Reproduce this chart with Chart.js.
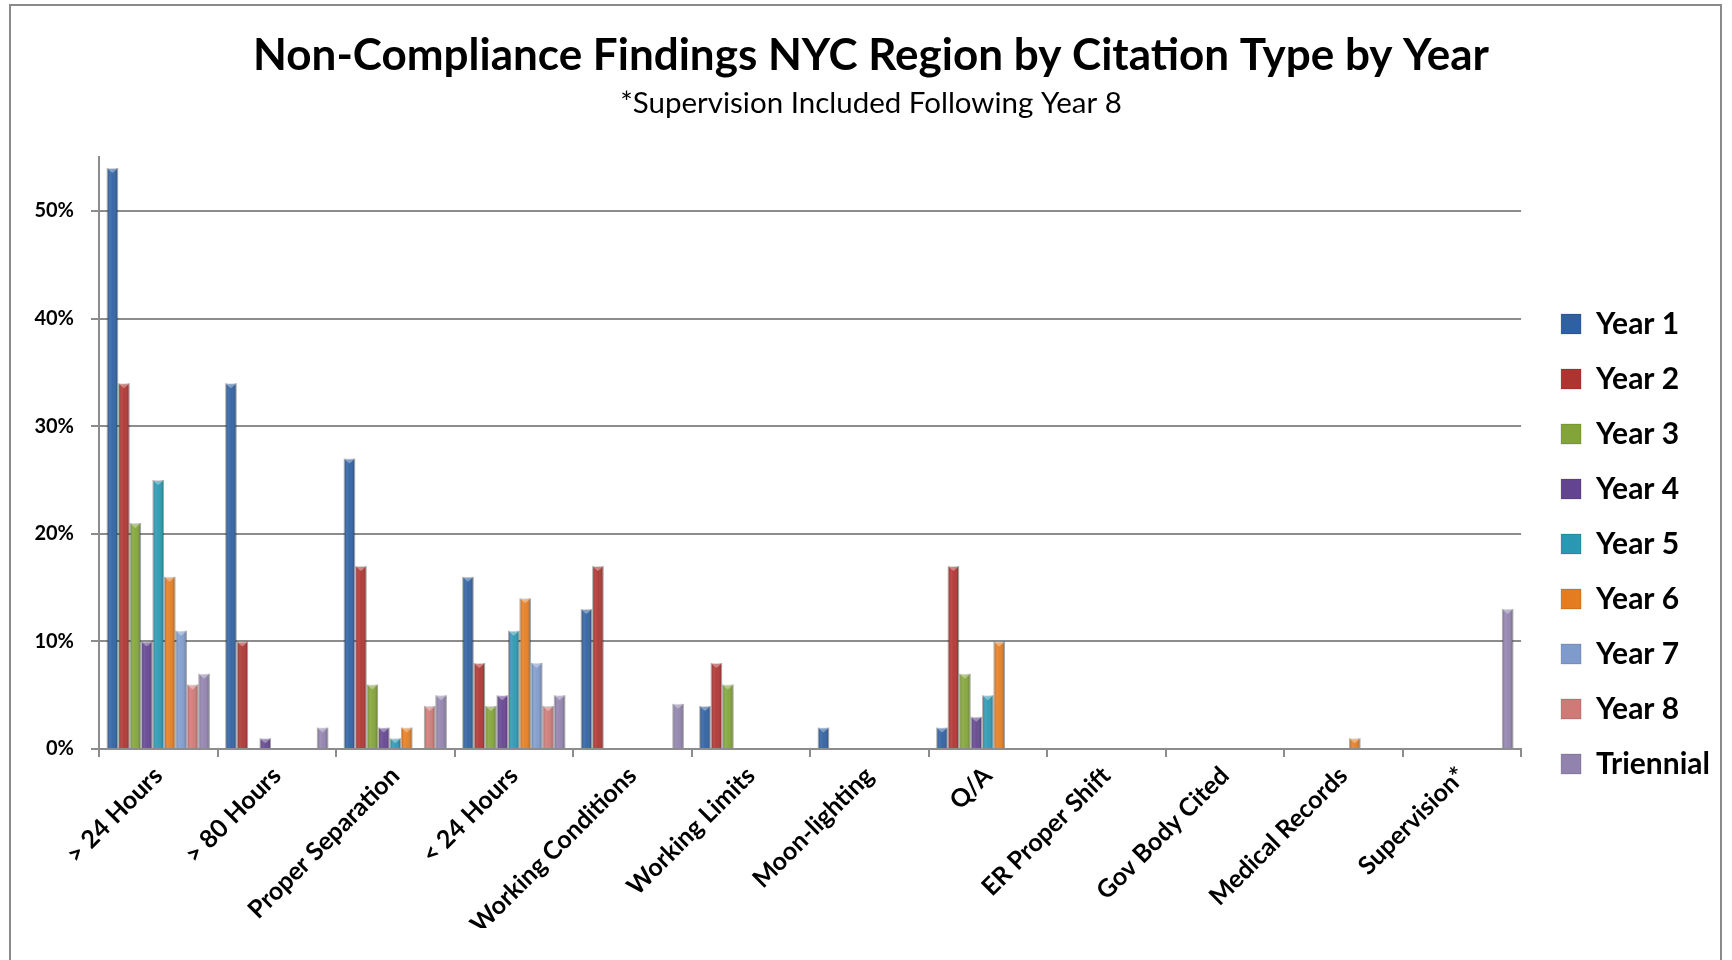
<!DOCTYPE html>
<html>
<head>
<meta charset="utf-8">
<script src="https://cdn.jsdelivr.net/npm/chart.js@4.4.1/dist/chart.umd.min.js"></script>
<style>
    html, body { margin: 0; padding: 0; background: #fff; overflow: hidden; }
    #frame { position: absolute; left: 9px; top: 4px; width: 1709px; height: 960px; border: 2px solid #8a8a8a; border-bottom: none; }
    #wrap { position: absolute; left: 0; top: 0; width: 1732px; height: 960px; }
</style>
</head>
<body>
<div id="frame"></div>
<div id="wrap"><canvas id="chart"></canvas></div>
<script>
const categories = ['> 24 Hours', '> 80 Hours', 'Proper Separation', '< 24 Hours', 'Working Conditions',
    'Working Limits', 'Moon-lighting', 'Q/A', 'ER Proper Shift', 'Gov Body Cited', 'Medical Records', 'Supervision*'];
// percent values per citation type
const year1 = [54, 34, 27, 16, 13, 4, 2, 2, 0, 0, 0, 0];
const year2 = [34, 10, 17, 8, 17, 8, 0, 17, 0, 0, 0, 0];
const year3 = [21, 0, 6, 4, 0, 6, 0, 7, 0, 0, 0, 0];
const year4 = [10, 1, 2, 5, 0, 0, 0, 3, 0, 0, 0, 0];
const year5 = [25, 0, 1, 11, 0, 0, 0, 5, 0, 0, 0, 0];
const year6 = [16, 0, 2, 14, 0, 0, 0, 10, 0, 0, 1, 0];
const year7 = [11, 0, 0, 8, 0, 0, 0, 0, 0, 0, 0, 0];
const year8 = [6, 0, 4, 4, 0, 0, 0, 0, 0, 0, 0, 0];
const triennial = [7, 2, 5, 5, 4.2, 0, 0, 0, 0, 0, 0, 13];
const seriesNames = ['Year 1', 'Year 2', 'Year 3', 'Year 4', 'Year 5', 'Year 6', 'Year 7', 'Year 8', 'Triennial'];
const seriesColors = ['#2E60A2', '#AE3431', '#82A438', '#634490', '#2A98B2', '#E47D22', '#7F9BCC', '#CE7A77', '#9182AE'];
const yTicks = [0, 10, 20, 30, 40, 50];

Chart.defaults.font.family = 'Lato, "Open Sans", sans-serif';
Chart.defaults.color = '#000';

const allSeries = [year1, year2, year3, year4, year5, year6, year7, year8, triennial];

// gives the bars a rounded, cylinder-like shading like the office chart
const barShade = {
    id: 'barShade',
    afterDatasetsDraw(chart) {
        const ctx = chart.ctx;
        chart.data.datasets.forEach((ds, i) => {
            chart.getDatasetMeta(i).data.forEach(bar => {
                const p = bar.getProps(['x', 'y', 'base', 'width'], true);
                const h = p.base - p.y;
                if (h <= 0.5) return;
                const left = p.x - p.width / 2;
                const g = ctx.createLinearGradient(left, 0, left + p.width, 0);
                g.addColorStop(0, 'rgba(0,0,0,0.25)');
                g.addColorStop(0.3, 'rgba(255,255,255,0.12)');
                g.addColorStop(0.55, 'rgba(255,255,255,0.05)');
                g.addColorStop(1, 'rgba(0,0,0,0.3)');
                ctx.save();
                ctx.fillStyle = g;
                ctx.fillRect(left, p.y, p.width, h);
                // small bevel cap on top
                ctx.fillStyle = 'rgba(255,255,255,0.35)';
                ctx.beginPath();
                ctx.moveTo(left + 1, p.y + 1);
                ctx.lineTo(left + p.width - 1, p.y + 1);
                ctx.lineTo(p.x, p.y + Math.min(5, h));
                ctx.closePath();
                ctx.fill();
                ctx.restore();
            });
        });
    }
};

// small position fixes: titles a bit right, legend lower (centred under the titles)
const nudge = {
    id: 'nudge',
    afterLayout(chart) {
        chart.boxes.forEach(b => {
            if (b.position === 'top') {
                b.left += 11;
                b.right += 11;
            }
        });
        if (chart.legend) {
            chart.legend.top += 80;
            chart.legend.bottom += 80;
        }
    }
};

new Chart(document.getElementById('chart'), {
    type: 'bar',
    data: {
        labels: categories,
        datasets: allSeries.map((values, i) => ({
            label: seriesNames[i],
            data: values.map(v => v / 100),
            backgroundColor: seriesColors[i],
            borderColor: 'rgba(0,0,0,0.15)',
            borderWidth: 1,
            barPercentage: 1,
            categoryPercentage: 0.87
        }))
    },
    options: {
        responsive: true,
        maintainAspectRatio: false,
        animation: false,
        layout: {padding: {left: 0, right: 12, top: 0, bottom: 32}},
        plugins: {
            title: {
                display: true,
                text: 'Non-Compliance Findings NYC Region by Citation Type by Year',
                font: {size: 44, weight: 'bold'},
                color: '#000',
                padding: {top: 29, bottom: 0}
            },
            subtitle: {
                display: true,
                text: '*Supervision Included Following Year 8',
                font: {size: 29.5, weight: 'normal'},
                color: '#000',
                padding: {top: 4, bottom: 36}
            },
            legend: {
                position: 'right',
                align: 'center',
                labels: {
                    boxWidth: 20,
                    boxHeight: 20,
                    padding: 25,
                    color: '#000',
                    font: {size: 30, weight: 'bold'}
                }
            },
            tooltip: {enabled: false}
        },
        scales: {
            x: {
                grid: {display: true, drawOnChartArea: false, drawTicks: true, tickLength: 8, color: '#8c8c8c', lineWidth: 2, offset: true},
                border: {color: '#8c8c8c', width: 2},
                ticks: {minRotation: 45, maxRotation: 45, autoSkip: false, padding: 4, color: '#000',
                    font: {size: 25, weight: 'bold'}},
                afterFit(scale) { scale.height = 179; }
            },
            y: {
                min: 0,
                max: 0.55,
                grid: {color: '#8c8c8c', lineWidth: 2, tickLength: 8},
                border: {color: '#8c8c8c', width: 2},
                afterBuildTicks(scale) {
                    scale.ticks = yTicks.map(v => ({value: v / 100}));
                },
                ticks: {
                    padding: 17,
                    color: '#000',
                    font: {size: 20, weight: 'bold'},
                    callback: v => Math.round(v * 100) + '%'
                },
                afterFit(scale) { scale.width = 99; }
            },
            // empty spacer between plot and legend
            gap: {
                position: 'right',
                display: true,
                grid: {display: false},
                border: {display: false},
                ticks: {display: false},
                afterFit(scale) { scale.width = 15; }
            }
        }
    },
    plugins: [barShade, nudge]
});
</script>
</body>
</html>
